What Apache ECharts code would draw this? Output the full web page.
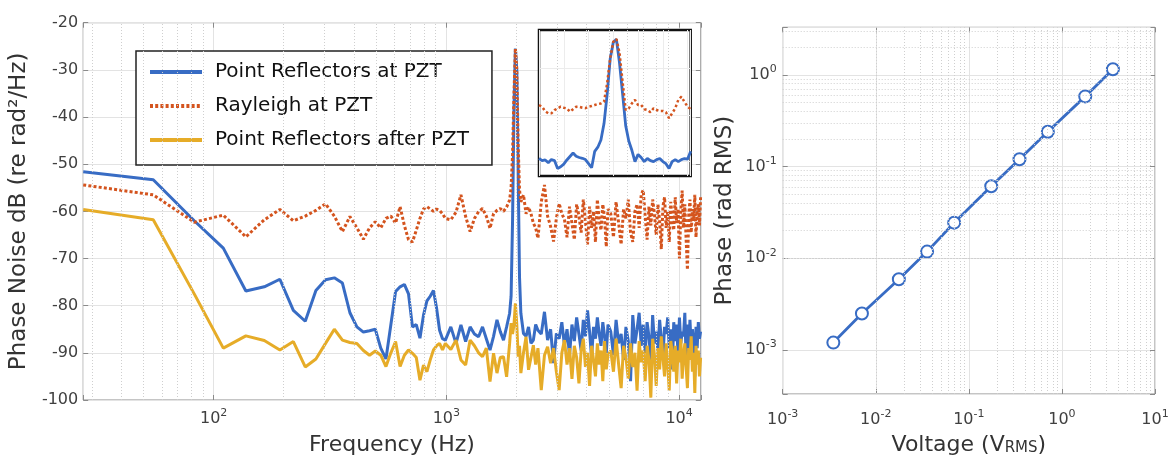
<!DOCTYPE html>
<html><head><meta charset="utf-8">
<script src="https://cdn.jsdelivr.net/npm/echarts@6/dist/echarts.min.js"></script>
<style>html,body{margin:0;padding:0;background:#fff}#c{width:1172px;height:461px}</style>
</head><body><div id="c"></div><script>
// ---------- Left chart: phase noise spectra ----------
const freq = [27.5, 55, 82.5, 110, 137.5, 165, 192.5, 220, 247.5, 275, 302.5, 330, 357.5, 385, 412.5, 440, 467.5, 495, 522.5, 550, 577.5, 605, 632.5, 660, 687.5, 715, 742.5, 770, 797.5, 825, 852.5, 880, 907.5, 935, 962.5, 990,
  1045, 1100, 1155, 1210, 1265, 1320, 1375, 1430, 1485, 1540, 1595, 1650, 1705, 1760, 1815, 1870, 1897.5, 1925, 1952.5, 1980, 2007.5, 2035, 2062.5, 2090, 2145, 2200, 2255, 2310, 2365, 2420, 2475,
  2557.5, 2640, 2722.5, 2805, 2887.5, 2970, 3052.5, 3135, 3217.5, 3300, 3382.5, 3465, 3547.5, 3630, 3712.5, 3795, 3877.5, 3960, 4042.5, 4125, 4207.5, 4290, 4372.5, 4455, 4537.5, 4620, 4702.5, 4785, 4867.5, 4950,
  5087.5, 5225, 5362.5, 5500, 5637.5, 5775, 5912.5, 6050, 6187.5, 6325, 6462.5, 6600, 6737.5, 6875, 7012.5, 7150, 7287.5, 7425, 7562.5, 7700, 7837.5, 7975, 8112.5, 8250, 8387.5, 8525, 8662.5, 8800, 8937.5, 9075, 9212.5, 9350, 9487.5, 9625, 9762.5, 9900, 10037.5, 10175, 10312.5, 10450, 10587.5, 10725, 10862.5, 11000, 11137.5, 11275, 11412.5, 11550, 11687.5, 11825, 11962.5, 12100, 12237.5, 12375];

const pointAtPZT = [-51.6, -53.3, -62.0, -67.8, -76.9, -76.0, -74.4, -81.0, -83.3, -76.8, -74.5, -74.1, -75.2, -81.5, -84.5, -85.6, -85.3, -85.0, -89.0, -91.3, -84.0, -77.0, -76.0, -75.5, -77.5, -84.5, -84.0, -86.9, -82.0, -79.0, -78.0, -76.8, -80.5, -85.2, -87.0, -87.3,
  -84.5, -88.0, -84.1, -87.6, -84.5, -86.0, -86.6, -84.5, -87.0, -89.4, -86.5, -83.0, -85.5, -87.3, -84.5, -81.6, -78.0, -62.0, -38.0, -25.5, -30.0, -52.0, -74.0, -81.6, -85.9, -86.5, -84.5, -88.0, -87.3, -84.0, -85.2,
  -86.0, -81.3, -87.3, -85.0, -92.2, -85.9, -87.0, -83.5, -88.5, -85.0, -90.5, -84.0, -87.5, -82.5, -86.0, -89.5, -83.0, -86.5, -81.0, -85.5, -91.0, -84.5, -87.0, -82.5, -86.0, -88.5, -83.5, -86.5, -90.0, -84.0,
  -85.5, -90.5, -83.0, -88.0, -86.0, -91.5, -84.5, -87.5, -96.0, -82.0, -88.0, -85.0, -81.5, -88.5, -84.0, -90.0, -83.5, -86.5, -92.0, -82.0, -88.0, -85.5, -89.5, -83.0, -87.0, -91.0, -84.5, -86.0, -82.5, -89.0, -85.0, -93.5, -83.5, -87.5, -84.0, -90.5, -82.5, -88.0, -85.5, -86.5, -81.5, -91.5, -84.0, -89.5, -83.0, -88.5, -85.0, -87.5, -95.0, -84.5, -89.0, -83.5, -87.0, -85.5];

const rayleighAtPZT = [-54.4, -56.5, -62.3, -60.8, -65.4, -61.8, -59.6, -62.0, -61.0, -59.8, -58.4, -61.0, -64.3, -61.1, -63.5, -65.9, -63.5, -62.2, -63.5, -61.5, -61.0, -62.5, -59.0, -63.0, -66.0, -66.5, -64.0, -61.5, -59.5, -59.0, -59.5, -60.0, -59.5, -59.8, -60.5, -61.5,
  -61.8, -60.2, -56.5, -61.1, -64.3, -61.5, -60.1, -59.4, -61.0, -63.6, -60.5, -59.8, -59.4, -60.0, -59.1, -57.6, -55.0, -48.0, -35.0, -25.5, -30.0, -46.0, -55.5, -58.0, -56.5, -60.5, -59.1, -60.5, -62.5, -63.5, -65.7,
  -58.0, -54.4, -61.0, -63.2, -66.4, -61.5, -58.3, -60.5, -61.7, -65.5, -59.0, -62.5, -66.0, -58.5, -61.0, -64.5, -57.5, -62.0, -67.0, -59.0, -63.5, -60.0, -66.5, -57.5, -62.0, -64.0, -58.5, -61.5, -67.5, -59.5,
  -60.5, -65.5, -58.0, -62.5, -67.0, -59.5, -61.5, -57.5, -64.5, -66.5, -60.0, -58.5, -63.5, -56.5, -55.5, -61.0, -66.0, -59.0, -63.0, -57.5, -60.5, -65.0, -58.5, -62.0, -68.0, -59.0, -57.0, -63.5, -60.0, -66.5, -58.0, -61.5, -64.0, -57.0, -62.5, -59.5, -70.0, -60.0, -55.6, -63.5, -58.5, -66.0, -72.4, -61.0, -57.5, -64.5, -59.5, -62.0, -56.5, -65.5, -60.0, -58.5, -63.0, -57.0];

const pointAfterPZT = [-59.6, -61.8, -77.5, -89.0, -86.4, -87.4, -89.4, -87.6, -93.0, -91.3, -88.0, -85.0, -87.3, -87.8, -88.0, -89.5, -90.5, -89.6, -90.5, -92.9, -90.0, -87.6, -92.9, -90.5, -89.4, -90.1, -91.0, -95.8, -92.6, -94.0, -91.5, -89.4, -88.5, -88.0, -89.4, -88.0,
  -89.3, -87.3, -91.5, -92.6, -87.3, -88.5, -90.0, -90.8, -89.0, -96.1, -90.1, -94.3, -91.0, -90.8, -95.1, -88.0, -83.7, -86.0, -84.0, -79.5, -84.0, -90.8, -88.5, -94.3, -90.0, -86.6, -93.6, -91.0, -88.4, -92.5, -89.0,
  -97.9, -90.5, -88.7, -92.2, -89.0, -94.0, -97.9, -90.0, -87.3, -92.5, -89.0, -95.5, -88.5, -91.0, -96.5, -89.5, -87.0, -93.0, -90.0, -97.0, -88.5, -91.5, -95.0, -88.0, -92.5, -89.5, -96.0, -87.5, -93.5, -90.5,
  -89.5, -94.0, -87.0, -92.5, -97.5, -88.5, -91.0, -95.5, -88.0, -93.0, -90.0, -98.0, -87.5, -92.0, -89.5, -96.0, -88.5, -91.5, -99.5, -87.0, -90.5, -97.0, -89.0, -93.5, -86.5, -91.0, -95.0, -88.0, -92.5, -98.0, -87.5, -90.0, -94.0, -88.5, -96.5, -89.5, -92.0, -87.0, -95.5, -90.5, -88.0, -93.0, -97.5, -89.0, -91.5, -86.5, -94.0, -90.0, -98.5, -88.5, -92.5, -89.5, -95.0, -91.0];

const seriesNames = ['Point Reflectors at PZT', 'Rayleigh at PZT', 'Point Reflectors after PZT'];
const freqTicksMinor = [30, 40, 50, 60, 70, 80, 90, 200, 300, 400, 500, 600, 700, 800, 900, 2000, 3000, 4000, 5000, 6000, 7000, 8000, 9000];

// ---------- Inset (zoom on the 2 kHz tone) ----------
const insetFreq = [1760, 1770, 1780, 1790, 1800, 1810, 1820, 1830, 1840, 1850, 1860, 1870, 1880, 1890, 1900, 1910, 1920, 1930, 1940, 1950, 1960, 1970, 1980, 1990, 2000, 2010, 2020, 2030, 2040, 2050, 2060, 2070, 2080, 2090, 2100, 2110, 2120, 2130, 2140, 2150, 2160, 2170, 2180, 2190, 2200, 2210, 2220, 2230, 2240, 2250];
const insetPoint = [-84.4, -85.5, -85.2, -86.5, -85.0, -85.5, -89.3, -88.5, -87.2, -85.2, -83.5, -81.8, -83.4, -84.0, -84.4, -85.0, -87.0, -89.0, -81.0, -79.0, -75.5, -67.5, -53.5, -36.0, -28.0, -26.5, -38.0, -53.0, -68.5, -76.0, -80.5, -86.0, -82.5, -84.0, -86.0, -84.5, -85.5, -86.0, -85.0, -84.5, -86.0, -87.0, -89.3, -86.0, -85.0, -86.0, -85.0, -84.5, -84.8, -81.0];
const insetRayleigh = [-58.5, -59.3, -61.5, -62.5, -62.5, -61.0, -60.1, -59.3, -59.8, -60.1, -61.7, -60.5, -59.3, -59.3, -59.8, -60.0, -59.3, -59.0, -58.5, -58.0, -57.7, -56.9, -48.0, -35.8, -27.7, -26.4, -33.0, -47.1, -60.9, -60.1, -57.7, -56.0, -58.5, -58.5, -60.5, -60.9, -62.0, -60.1, -60.9, -61.4, -61.4, -62.0, -64.9, -62.5, -60.1, -56.0, -54.4, -57.0, -59.3, -60.5];
const insetGridY = [-40.6, -63.3, -86.0];

// ---------- Right chart: phase vs drive voltage ----------
const voltage = [0.0035, 0.0071, 0.0177, 0.0356, 0.0695, 0.174, 0.35, 0.706, 1.78, 3.53];
const phase = [0.0012, 0.00249, 0.0059, 0.0118, 0.0244, 0.0608, 0.12, 0.239, 0.582, 1.15];
const minorMult = [2, 3, 4, 5, 6, 7, 8, 9];
const voltDecades = [0.001, 0.01, 0.1, 1];
const phaseDecades = [0.0001, 0.001, 0.01, 0.1, 1];

// ---------- styling ----------
const FONT = 'DejaVu Sans';
const BLUE = '#386cc4', ORANGE = '#d4541e', YELLOW = '#e6ac28';
const AX = '#8a8a8a', TXT = '#404040', GRID = '#e3e3e3', MINOR = '#cfcfcf';
const supRich = {
  b: { fontSize: 16, fontFamily: FONT, color: TXT, lineHeight: 22 },
  s: { fontSize: 11, fontFamily: FONT, color: TXT, lineHeight: 12, verticalAlign: 'top' }
};
function powLabel(v) {
  const e = Math.log10(v), r = Math.round(e);
  if (Math.abs(e - r) > 1e-6) return '';
  return '{b|10}{s|' + r + '}';
}
const zip = (a, b) => a.map((x, i) => [x, b[i]]);
const minorFrom = (decades, lo, hi) => {
  const out = [];
  decades.forEach(d => minorMult.forEach(m => { const v = d * m; if (v > lo && v < hi) out.push(v); }));
  return out;
};
const phaseMin = 3.3e-4, phaseMax = 3.3;
const voltMinor = minorFrom(voltDecades, 0.001, 10);
const phaseMinor = minorFrom(phaseDecades, phaseMin, phaseMax);

const minorLine = { type: [1, 2], color: MINOR, width: 1 };
const tickIn = { show: true, inside: true, length: 5, lineStyle: { color: AX } };
const mirror = (extra) => Object.assign({ axisLine: { show: false }, axisLabel: { show: false }, axisTick: tickIn, splitLine: { show: false } }, extra);

const option = {
  animation: false,
  backgroundColor: '#fff',
  textStyle: { fontFamily: FONT },
  grid: [
    { left: 82.4, top: 22.7, width: 618.4, height: 377.3, show: true, borderColor: AX, borderWidth: 1, backgroundColor: 'rgba(0,0,0,0)' },
    { left: 539, top: 30, width: 151.7, height: 146, show: true, borderColor: '#111', borderWidth: 2.5, backgroundColor: '#fff', z: 5 },
    { left: 782.7, top: 27.3, width: 372.3, height: 369.4, show: true, borderColor: AX, borderWidth: 1, backgroundColor: 'rgba(0,0,0,0)' }
  ],
  legend: {
    data: seriesNames,
    orient: 'vertical', left: 136, top: 51,
    padding: [11, 23, 15, 12], itemGap: 14, itemWidth: 52, itemHeight: 20,
    backgroundColor: '#fff', borderColor: '#222', borderWidth: 1.5, borderRadius: 0,
    textStyle: { fontSize: 20, fontFamily: FONT, color: '#111', padding: [0, 0, 0, 8] },
    itemStyle: { opacity: 0 },
    lineStyle: { width: 4 }
  },
  xAxis: [
    { type: 'log', gridIndex: 0, min: 27.5, max: 12400, logBase: 10,
      axisLine: { show: false }, axisTick: tickIn,
      axisLabel: { formatter: powLabel, rich: supRich, margin: 8 },
      splitLine: { show: true, lineStyle: { color: GRID } },
      name: 'Frequency (Hz)', nameLocation: 'middle', nameGap: 34,
      nameTextStyle: { fontSize: 22, fontFamily: FONT, color: '#333' } },
    mirror({ type: 'log', gridIndex: 0, min: 27.5, max: 12400, position: 'top' }),
    { type: 'value', gridIndex: 1, min: 1760, max: 2250, interval: 80, z: 6,
      axisLine: { show: false }, axisTick: { show: false }, axisLabel: { show: false },
      splitLine: { show: true, lineStyle: { color: '#ececec' } } },
    { type: 'log', gridIndex: 2, min: 0.001, max: 10, logBase: 10,
      axisLine: { show: false }, axisTick: tickIn,
      axisLabel: { formatter: powLabel, rich: supRich, margin: 15 },
      splitLine: { show: true, lineStyle: { color: GRID } },
      name: 'Voltage (V{sub|RMS})', nameLocation: 'middle', nameGap: 40,
      nameTextStyle: { fontSize: 22, fontFamily: FONT, color: '#333',
        rich: { sub: { fontSize: 15, fontFamily: FONT, color: '#333', verticalAlign: 'bottom', lineHeight: 14 } } } },
    mirror({ type: 'log', gridIndex: 2, min: 0.001, max: 10, position: 'top' })
  ],
  yAxis: [
    { type: 'value', gridIndex: 0, min: -100, max: -20, interval: 10,
      axisLine: { show: false }, axisTick: tickIn,
      axisLabel: { fontSize: 16, fontFamily: FONT, color: TXT, margin: 5 },
      splitLine: { show: true, lineStyle: { color: GRID } },
      name: 'Phase Noise dB (re rad²/Hz)', nameLocation: 'middle', nameGap: 48, nameRotate: 90,
      nameTextStyle: { fontSize: 23, fontFamily: FONT, color: '#333' } },
    mirror({ type: 'value', gridIndex: 0, min: -100, max: -20, interval: 10, position: 'right' }),
    { type: 'value', gridIndex: 1, min: -93, max: -22, z: 6,
      axisLine: { show: false }, axisTick: { show: false }, axisLabel: { show: false }, splitLine: { show: false } },
    { type: 'log', gridIndex: 2, min: phaseMin, max: phaseMax, logBase: 10,
      axisLine: { show: false }, axisTick: tickIn,
      axisLabel: { formatter: powLabel, rich: supRich, margin: 6 },
      splitLine: { show: true, lineStyle: { color: GRID } },
      name: 'Phase (rad RMS)', nameLocation: 'middle', nameGap: 46, nameRotate: 90,
      nameTextStyle: { fontSize: 23, fontFamily: FONT, color: '#333' } },
    mirror({ type: 'log', gridIndex: 2, min: phaseMin, max: phaseMax, position: 'right' })
  ],
  series: [
    { name: 'minorGridLeft', type: 'line', xAxisIndex: 0, yAxisIndex: 0, data: [], z: 1, silent: true,
      markLine: { silent: true, symbol: ['none', 'none'], label: { show: false }, lineStyle: minorLine, animation: false,
        data: freqTicksMinor.map(v => ({ xAxis: v })) } },
    { name: seriesNames[0], type: 'line', xAxisIndex: 0, yAxisIndex: 0, data: zip(freq, pointAtPZT),
      symbol: 'none', showSymbol: false, lineStyle: { color: BLUE, width: 3 }, itemStyle: { color: BLUE }, z: 3 },
    { name: seriesNames[1], type: 'line', xAxisIndex: 0, yAxisIndex: 0, data: zip(freq, rayleighAtPZT),
      symbol: 'none', showSymbol: false, lineStyle: { color: ORANGE, width: 3, type: [3, 2.2] }, itemStyle: { color: ORANGE }, z: 3 },
    { name: seriesNames[2], type: 'line', xAxisIndex: 0, yAxisIndex: 0, data: zip(freq, pointAfterPZT),
      symbol: 'none', showSymbol: false, lineStyle: { color: YELLOW, width: 3 }, itemStyle: { color: YELLOW }, z: 3 },
    { name: 'insetGrid', type: 'line', xAxisIndex: 2, yAxisIndex: 2, data: [], z: 6, silent: true,
      markLine: { silent: true, symbol: ['none', 'none'], label: { show: false }, lineStyle: { type: 'solid', color: '#ececec', width: 1 }, animation: false,
        data: insetGridY.map(v => ({ yAxis: v })) } },
    { name: 'insetPoint', type: 'line', xAxisIndex: 2, yAxisIndex: 2, data: zip(insetFreq, insetPoint),
      symbol: 'none', lineStyle: { color: BLUE, width: 2.8 }, z: 7 },
    { name: 'insetRayleigh', type: 'line', xAxisIndex: 2, yAxisIndex: 2, data: zip(insetFreq, insetRayleigh),
      symbol: 'none', lineStyle: { color: ORANGE, width: 2.5, type: [2.5, 2.5] }, z: 7 },
    { name: 'minorGridRightX', type: 'line', xAxisIndex: 3, yAxisIndex: 3, data: [], z: 1, silent: true,
      markLine: { silent: true, symbol: ['none', 'none'], label: { show: false }, lineStyle: minorLine, animation: false,
        data: voltMinor.map(v => ({ xAxis: v })).concat(phaseMinor.map(v => ({ yAxis: v }))) } },
    { name: 'Phase', type: 'line', xAxisIndex: 3, yAxisIndex: 3, data: zip(voltage, phase),
      symbol: 'emptyCircle', symbolSize: 12, showSymbol: true,
      lineStyle: { color: BLUE, width: 2.8 }, itemStyle: { color: BLUE, borderColor: BLUE, borderWidth: 2.8 }, z: 3 }
  ]
};
const chart = echarts.init(document.getElementById('c'), null, { renderer: 'canvas' });
chart.setOption(option);
</script></body></html>
